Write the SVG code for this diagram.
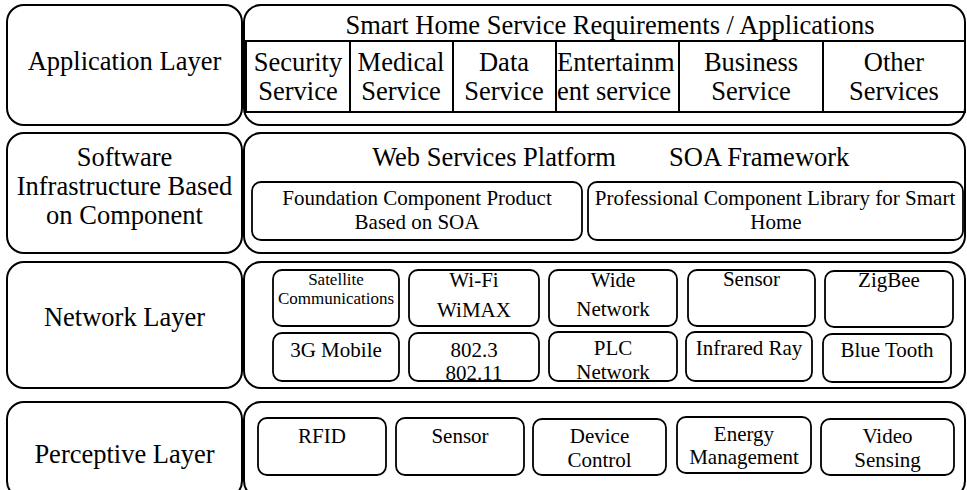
<svg xmlns="http://www.w3.org/2000/svg" width="967" height="490" viewBox="0 0 967 490" font-family="'Liberation Serif', 'Times New Roman', serif">
<style>
.ob{fill:none;stroke:#000;stroke-width:2}
.ib{fill:none;stroke:#000;stroke-width:1.8}
.tl{stroke:#000;stroke-width:2;fill:none}
text{font-family:'Liberation Serif','Times New Roman',serif;fill:#000;text-anchor:middle}
.t26{font-size:26.5px}
.t21{font-size:21px}
.t17{font-size:17px}
</style>
<rect width="967" height="490" fill="#fff"/>
<g id="application-layer">
<rect class="ob" x="7" y="5" width="235" height="120" rx="17"/>
<text class="t26" x="124.5" y="70">Application Layer</text>
</g>
<g id="application-services">
<rect class="ob" x="244" y="5" width="721" height="120" rx="17"/>
<text class="t26" x="610" y="34">Smart Home Service Requirements / Applications</text>
<rect class="tl" x="246" y="41" width="719" height="71"/>
<line class="tl" x1="350" y1="41" x2="350" y2="112"/>
<line class="tl" x1="453" y1="41" x2="453" y2="112"/>
<line class="tl" x1="556" y1="41" x2="556" y2="112"/>
<line class="tl" x1="679" y1="41" x2="679" y2="112"/>
<line class="tl" x1="823" y1="41" x2="823" y2="112"/>
<text class="t26" x="298" y="71">Security</text>
<text class="t26" x="298" y="100">Service</text>
<text class="t26" x="401" y="71">Medical</text>
<text class="t26" x="401" y="100">Service</text>
<text class="t26" x="504" y="71">Data</text>
<text class="t26" x="504" y="100">Service</text>
<text class="t26" x="557" y="71" style="text-anchor:start">Entertainm</text>
<text class="t26" x="557" y="100" style="text-anchor:start">ent service</text>
<text class="t26" x="751" y="71">Business</text>
<text class="t26" x="751" y="100">Service</text>
<text class="t26" x="894" y="71">Other</text>
<text class="t26" x="894" y="100">Services</text>
</g>
<g id="software-layer">
<rect class="ob" x="7" y="133" width="235" height="120" rx="17"/>
<text class="t26" x="124.5" y="166">Software</text>
<text class="t26" x="124.5" y="195">Infrastructure Based</text>
<text class="t26" x="124.5" y="224">on Component</text>
</g>
<g id="software-platform">
<rect class="ob" x="244" y="133" width="721" height="120" rx="17"/>
<text class="t26" x="494" y="166">Web Services Platform</text>
<text class="t26" x="669" y="166" style="text-anchor:start">SOA Framework</text>
</g>
<g id="foundation-component">
<rect class="ib" x="252" y="182" width="330" height="58" rx="9"/>
<text class="t21" x="417" y="205">Foundation Component Product</text>
<text class="t21" x="417" y="229">Based on SOA</text>
</g>
<g id="professional-component">
<rect class="ib" x="588" y="182" width="375" height="58" rx="9"/>
<text class="t21" x="775" y="205">Professional Component Library for Smart</text>
<text class="t21" x="776" y="229">Home</text>
</g>
<g id="network-layer">
<rect class="ob" x="7" y="262" width="235" height="126" rx="17"/>
<text class="t26" x="124.5" y="326">Network Layer</text>
</g>
<g id="network-container">
<rect class="ob" x="244" y="262" width="721" height="126" rx="17"/>
</g>
<g id="satellite">
<rect class="ib" x="273" y="270" width="126" height="56" rx="9"/>
<text class="t17" x="336" y="285">Satellite</text>
<text class="t17" x="336" y="304">Communications</text>
</g>
<g id="wifi">
<rect class="ib" x="409" y="270" width="130" height="56" rx="9"/>
<text class="t21" x="474" y="287">Wi-Fi</text>
<text class="t21" x="474" y="317">WiMAX</text>
</g>
<g id="wide-network">
<rect class="ib" x="549" y="270" width="128" height="56" rx="9"/>
<text class="t21" x="613" y="287">Wide</text>
<text class="t21" x="613" y="316">Network</text>
</g>
<g id="sensor-net">
<rect class="ib" x="688" y="270" width="127" height="56" rx="9"/>
<text class="t21" x="751.5" y="286">Sensor</text>
</g>
<g id="zigbee">
<rect class="ib" x="825" y="271" width="128" height="56" rx="9"/>
<text class="t21" x="889" y="287">ZigBee</text>
</g>
<g id="mobile-3g">
<rect class="ib" x="273" y="333" width="126" height="48" rx="9"/>
<text class="t21" x="336" y="357">3G Mobile</text>
</g>
<g id="ieee-802">
<rect class="ib" x="409" y="333" width="130" height="48" rx="9"/>
<text class="t21" x="474" y="357">802.3</text>
<text class="t21" x="474" y="380">802.11</text>
</g>
<g id="plc-network">
<rect class="ib" x="549" y="332" width="128" height="49" rx="9"/>
<text class="t21" x="613" y="355">PLC</text>
<text class="t21" x="613" y="379">Network</text>
</g>
<g id="infrared">
<rect class="ib" x="686" y="332" width="126" height="49" rx="9"/>
<text class="t21" x="749" y="355">Infrared Ray</text>
</g>
<g id="bluetooth">
<rect class="ib" x="823" y="334" width="128" height="48" rx="9"/>
<text class="t21" x="887" y="357">Blue Tooth</text>
</g>
<g id="perceptive-layer">
<rect class="ob" x="7" y="402" width="235" height="96" rx="17"/>
<text class="t26" x="124.5" y="463">Perceptive Layer</text>
</g>
<g id="perceptive-container">
<rect class="ob" x="244" y="402" width="721" height="96" rx="17"/>
</g>
<g id="rfid">
<rect class="ib" x="258" y="418" width="128" height="57" rx="9"/>
<text class="t21" x="322" y="443">RFID</text>
</g>
<g id="sensor">
<rect class="ib" x="396" y="418" width="128" height="57" rx="9"/>
<text class="t21" x="460" y="443">Sensor</text>
</g>
<g id="device-control">
<rect class="ib" x="533" y="419" width="133" height="56" rx="9"/>
<text class="t21" x="599.5" y="443">Device</text>
<text class="t21" x="599.5" y="467">Control</text>
</g>
<g id="energy-management">
<rect class="ib" x="677" y="417" width="134" height="56" rx="9"/>
<text class="t21" x="744" y="441">Energy</text>
<text class="t21" x="744" y="464">Management</text>
</g>
<g id="video-sensing">
<rect class="ib" x="821" y="419" width="133" height="56" rx="9"/>
<text class="t21" x="887.5" y="443">Video</text>
<text class="t21" x="887.5" y="467">Sensing</text>
</g>
<g id="connectors"></g>
</svg>
